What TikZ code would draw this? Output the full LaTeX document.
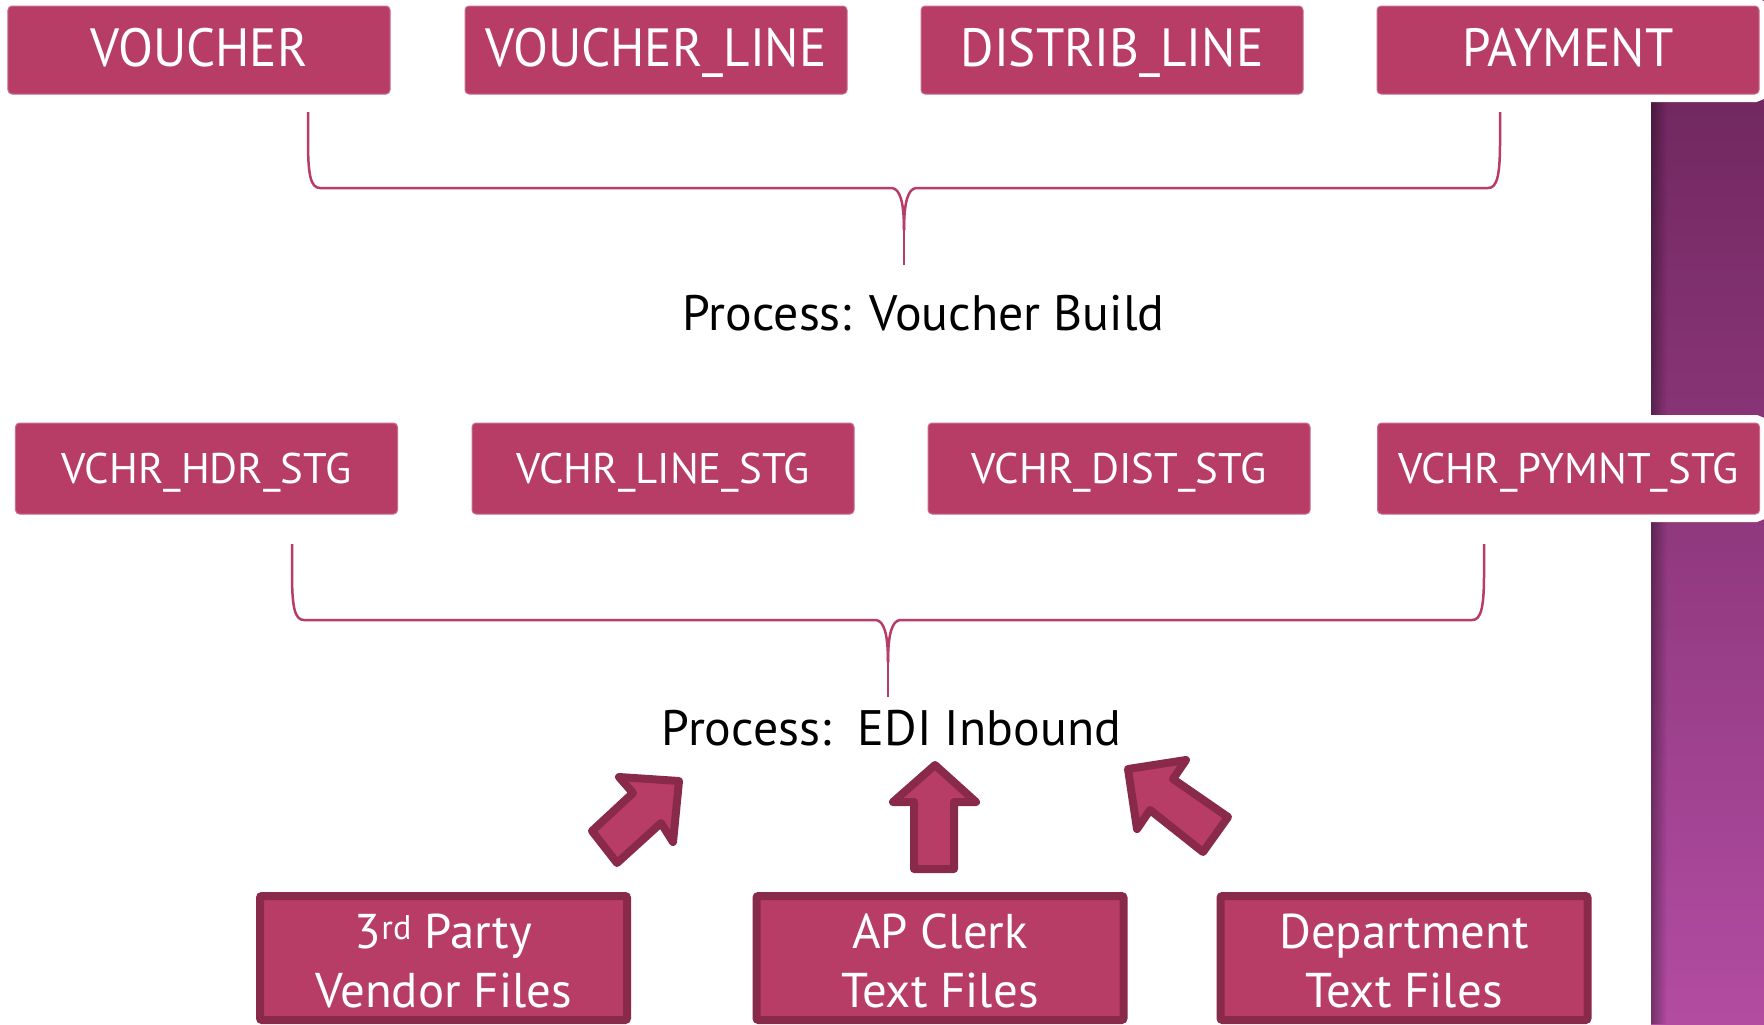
\documentclass[tikz,border=0pt]{standalone}
\usepackage{fontspec}
\setmainfont{PT Sans}
\newfontfamily\topfont[FakeStretch=0.95]{PT Sans}
\usetikzlibrary{fadings}
\definecolor{boxfill}{HTML}{B83D66}
\definecolor{boxedge}{HTML}{8A2A4B}
\definecolor{stripTop}{HTML}{6B2459}
\definecolor{stripBot}{HTML}{B24CA2}
\tikzset{
  topbox/.style={rectangle, rounded corners=4bp, fill=boxfill, draw=boxfill!75!white, line width=1bp,
    minimum width=382bp, minimum height=88bp, inner sep=0pt, text=white,
    preaction={draw=white, line width=16bp},
    font=\topfont\fontsize{54}{60}\selectfont, text height=38bp, text depth=6bp},
  midbox/.style={topbox, minimum height=91bp, font=\rmfamily\fontsize{43}{50}\selectfont, text height=30bp, text depth=0bp},
  srcbox/.style={rectangle, rounded corners=2bp, fill=boxfill, draw=boxedge, line width=8bp,
    minimum width=367bp, minimum height=124bp, inner sep=0pt, text=white, align=center,
    font=\fontsize{49}{59}\selectfont, text height=98bp, text depth=0bp},
  proclabel/.style={anchor=base, inner sep=0pt, font=\fontsize{50}{56}\selectfont},
  bracel/.style={draw=boxfill, line width=2.5bp},
  fatarrow/.style={fill=boxfill, draw=boxedge, line width=8bp, line join=round},
  pics/cbrace/.style={code={
    \draw[bracel] (-596,0) -- (-596,30) .. controls (-596,64) and (-593,76) .. (-584,76)
      -- (-12,76) .. controls (-4,77) and (0,90) .. (0,118);
    \draw[bracel] (0,118) .. controls (0,90) and (4,77) .. (12,76)
      -- (584,76) .. controls (593,76) and (596,64) .. (596,30) -- (596,0);
    \draw[bracel] (0,110) -- (0,153);
  }}
}
\begin{document}
\begin{tikzpicture}[x=1bp,y=-1bp]
\useasboundingbox (0,0) rectangle (1764,1024);
\fill[white] (0,0) rectangle (1764,1024);
% decorative strip
\shade[top color=stripTop, bottom color=stripBot] (1651,0) rectangle (1764,1024);
\fill[black, opacity=0.35, path fading=east] (1651,0) rectangle (1667,1024);

% top row
\node[topbox] (voucher) at (199,50) {VOUCHER};
\node[topbox] (vline)   at (656,50) {VOUCHER\_LINE};
\node[topbox] (dline)   at (1112,50) {DISTRIB\_LINE};
\node[topbox] (payment) at (1568,50) {PAYMENT};

\pic at (904,112) {cbrace};
\node[proclabel] (build) at (923.5,330) {Process: Voucher Build};

% middle row
\node[midbox] (hdr)   at (206.5,468.5) {VCHR\_HDR\_STG};
\node[midbox] (lstg)  at (663,468.5) {VCHR\_LINE\_STG};
\node[midbox] (dstg)  at (1119,468.5) {VCHR\_DIST\_STG};
\node[midbox] (pstg)  at (1568.5,468.5) {VCHR\_PYMNT\_STG};

\pic at (888,544) {cbrace};
\node[proclabel] (edi) at (891.5,745) {Process:\ \ EDI Inbound};

% arrows
\draw[fatarrow] (679,781) -- (619,777) -- (633,793) -- (592,831) -- (617,863) -- (661,823) -- (673,842) -- cycle;
\draw[fatarrow] (935,765) -- (976,802) -- (954,802) -- (954,869) -- (914,869) -- (914,802) -- (893,802) -- cycle;
\draw[fatarrow] (1128,769) -- (1186,760) -- (1173,779) -- (1228,817) -- (1203,852) -- (1150,810) -- (1137,829) -- cycle;

% source boxes
\node[srcbox] (vendor) at (443.5,958) {3\textsuperscript{rd} Party\\Vendor Files};
\node[srcbox] (clerk)  at (940,958) {AP Clerk\\Text Files};
\node[srcbox] (dept)   at (1404,958) {Department\\Text Files};
\end{tikzpicture}
\end{document}
